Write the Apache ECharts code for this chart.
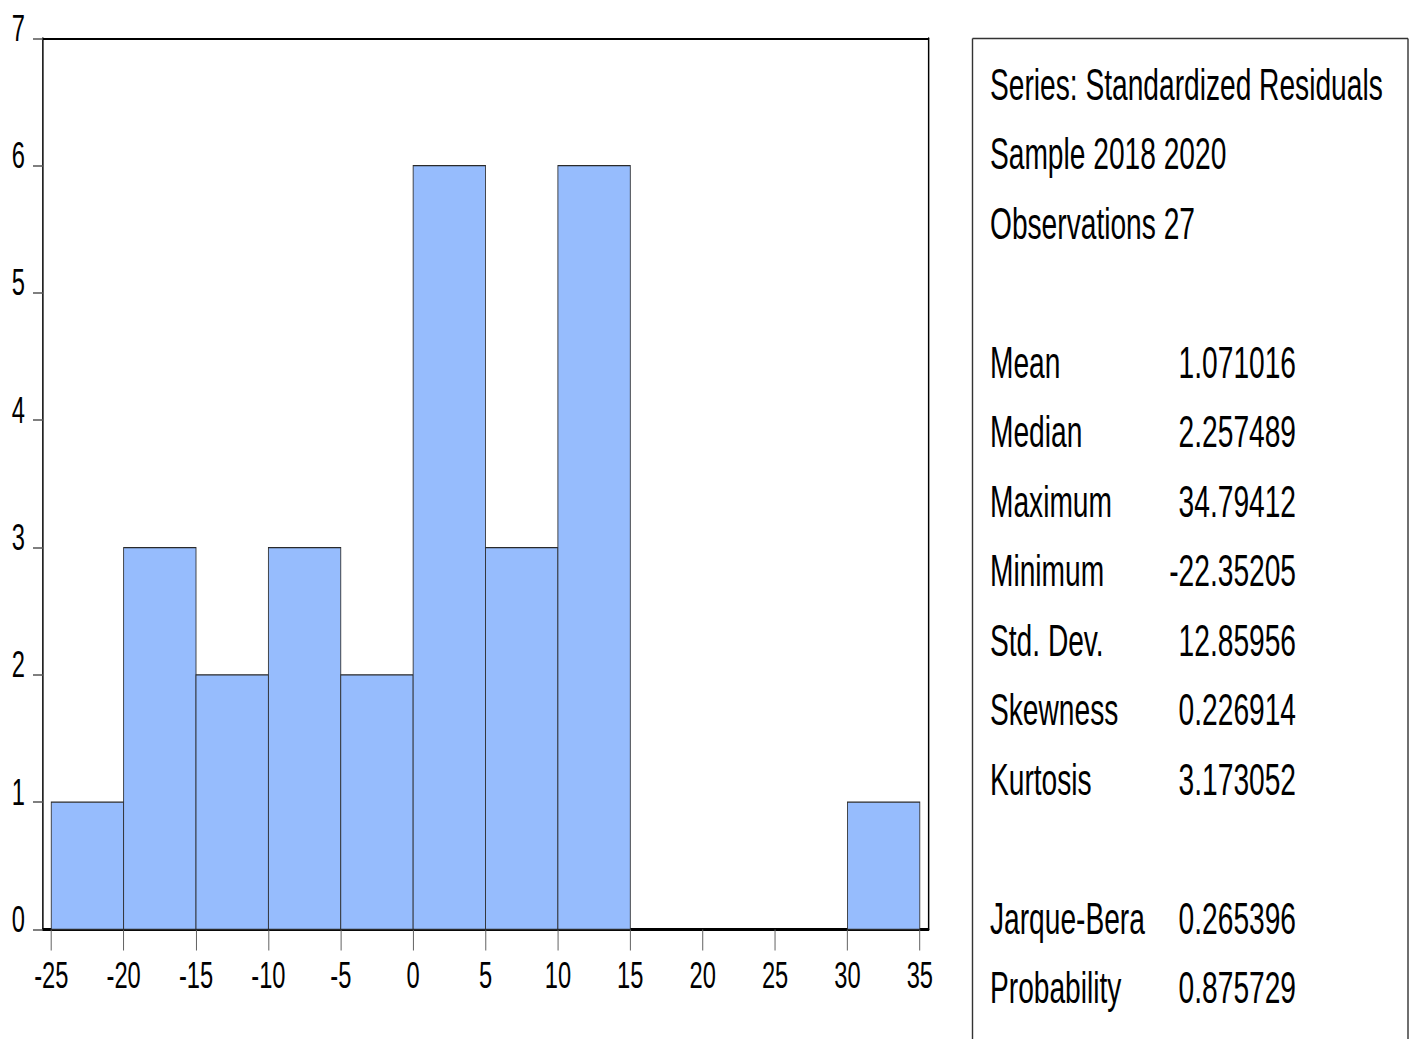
<!DOCTYPE html>
<html>
<head>
<meta charset="utf-8">
<script src="https://cdn.jsdelivr.net/npm/echarts@6/dist/echarts.min.js"></script>
<style>
  html, body { margin: 0; padding: 0; background: #fff; overflow: hidden; }
  #frame { position: absolute; left: 0; top: 0; width: 1415px; height: 1039px; overflow: hidden; background: #fff; }
  #chart { height: 1039px; transform-origin: 0 0; }
</style>
</head>
<body>
<div id="frame"><div id="chart"></div></div>
<script>
// Histogram of the residuals: bin edges and the count in each bin
const binEdges  = [-25, -20, -15, -10, -5, 0, 5, 10, 15, 20, 25, 30, 35];
const binCounts = [1, 3, 2, 3, 2, 6, 3, 6, 0, 0, 0, 1];

// Tick labels on the horizontal axis
const xTickValues = [-25, -20, -15, -10, -5, 0, 5, 10, 15, 20, 25, 30, 35];

// Descriptive statistics panel
const headerLines = ['Series: Standardized Residuals', 'Sample 2018 2020', 'Observations 27'];
const statNames   = ['Mean', 'Median', 'Maximum', 'Minimum', 'Std. Dev.', 'Skewness', 'Kurtosis'];
const statValues  = ['1.071016', '2.257489', '34.79412', '-22.35205', '12.85956', '0.226914', '3.173052'];
const testNames   = ['Jarque-Bera', 'Probability'];
const testValues  = ['0.265396', '0.875729'];

// The whole figure uses a condensed type face; the drawing is laid out on a
// wider canvas and squeezed horizontally by this factor.
const SQ = 0.64;
const W = 1415 / SQ;
const sx = v => v / SQ;           // screen x -> layout x

const el = document.getElementById('chart');
el.style.width = W + 'px';
el.style.transform = 'scaleX(' + SQ + ')';

const FONT = 'Liberation Sans, Arial, sans-serif';

const bins = binCounts.map((c, i) => [binEdges[i], binEdges[i + 1], c]);

// statistics text
const graphics = [];
const rowY = r => 85 + 69.5 * r;
const addText = (txt, x, y, align) => graphics.push({
  type: 'text', x: sx(x), y: y, silent: true,
  style: { text: txt, fontSize: 44, fontFamily: FONT, fill: '#000', align: align, verticalAlign: 'middle' }
});
headerLines.forEach((t, i) => addText(t, 990, rowY(i), 'left'));
statNames.forEach((t, i) => {
  addText(t, 990, rowY(4 + i), 'left');
  addText(statValues[i], 1296, rowY(4 + i), 'right');
});
testNames.forEach((t, i) => {
  addText(t, 990, rowY(12 + i), 'left');
  addText(testValues[i], 1296, rowY(12 + i), 'right');
});
// open-bottomed box around the statistics
const boxL = sx(972.5), boxR = sx(1408), boxT = 38.5, boxB = 1060;
graphics.push(
  { type: 'line', silent: true, shape: { x1: boxL, y1: boxB, x2: boxL, y2: boxT }, style: { stroke: '#333', lineWidth: 2.2 } },
  { type: 'line', silent: true, shape: { x1: boxL, y1: boxT, x2: boxR, y2: boxT }, style: { stroke: '#333', lineWidth: 1.4 } },
  { type: 'line', silent: true, shape: { x1: boxR, y1: boxT, x2: boxR, y2: boxB }, style: { stroke: '#333', lineWidth: 2.2 } }
);

const chart = echarts.init(el, null, { renderer: 'svg' });

const gridLeft = sx(43), gridRight = W - sx(928.3);

chart.setOption({
  animation: false,
  backgroundColor: '#fff',
  grid: { left: gridLeft, right: gridRight, top: 38.3, bottom: 1039 - 929.5, containLabel: false },
  xAxis: [{
    type: 'value', min: -25.57, max: 35.59,
    splitLine: { show: false },
    axisLine: { show: true, onZero: false, lineStyle: { color: '#000', width: 3 } },
    axisTick: { show: true, customValues: xTickValues, length: 21, lineStyle: { color: '#666', width: 1.6 } },
    axisLabel: { show: true, customValues: xTickValues, margin: 27, fontSize: 37, lineHeight: 37, fontFamily: FONT, color: '#000' }
  }, {
    type: 'value', position: 'top', min: -25.57, max: 35.59,
    splitLine: { show: false }, axisTick: { show: false }, axisLabel: { show: false },
    axisLine: { show: true, onZero: false, lineStyle: { color: '#000', width: 2 } }
  }],
  yAxis: [{
    type: 'value', min: 0, max: 7, interval: 1,
    splitLine: { show: false },
    axisLine: { show: true, onZero: false, lineStyle: { color: '#000', width: 2.3 } },
    axisTick: { show: true, length: sx(10), lineStyle: { color: '#555', width: 1.5 } },
    axisLabel: { show: true, margin: sx(18), fontSize: 37, lineHeight: 20, fontFamily: FONT, color: '#000',
                 verticalAlign: 'bottom' }
  }, {
    type: 'value', position: 'right', min: 0, max: 7, interval: 1,
    splitLine: { show: false }, axisTick: { show: false }, axisLabel: { show: false },
    axisLine: { show: true, onZero: false, lineStyle: { color: '#000', width: 2.3 } }
  }],
  series: [{
    type: 'custom',
    xAxisIndex: 0, yAxisIndex: 0,
    data: bins,
    encode: { x: [0, 1], y: 2 },
    z: 1,
    renderItem: function (params, api) {
      const count = api.value(2);
      if (!count) return null;
      const p0 = api.coord([api.value(0), count]);
      const p1 = api.coord([api.value(1), 0]);
      return {
        type: 'rect',
        shape: { x: p0[0], y: p0[1], width: p1[0] - p0[0], height: p1[1] - p0[1] },
        style: { fill: '#96BCFD', stroke: '#2a2a2a', lineWidth: 1.3 }
      };
    }
  }],
  graphic: graphics
});
</script>
</body>
</html>
